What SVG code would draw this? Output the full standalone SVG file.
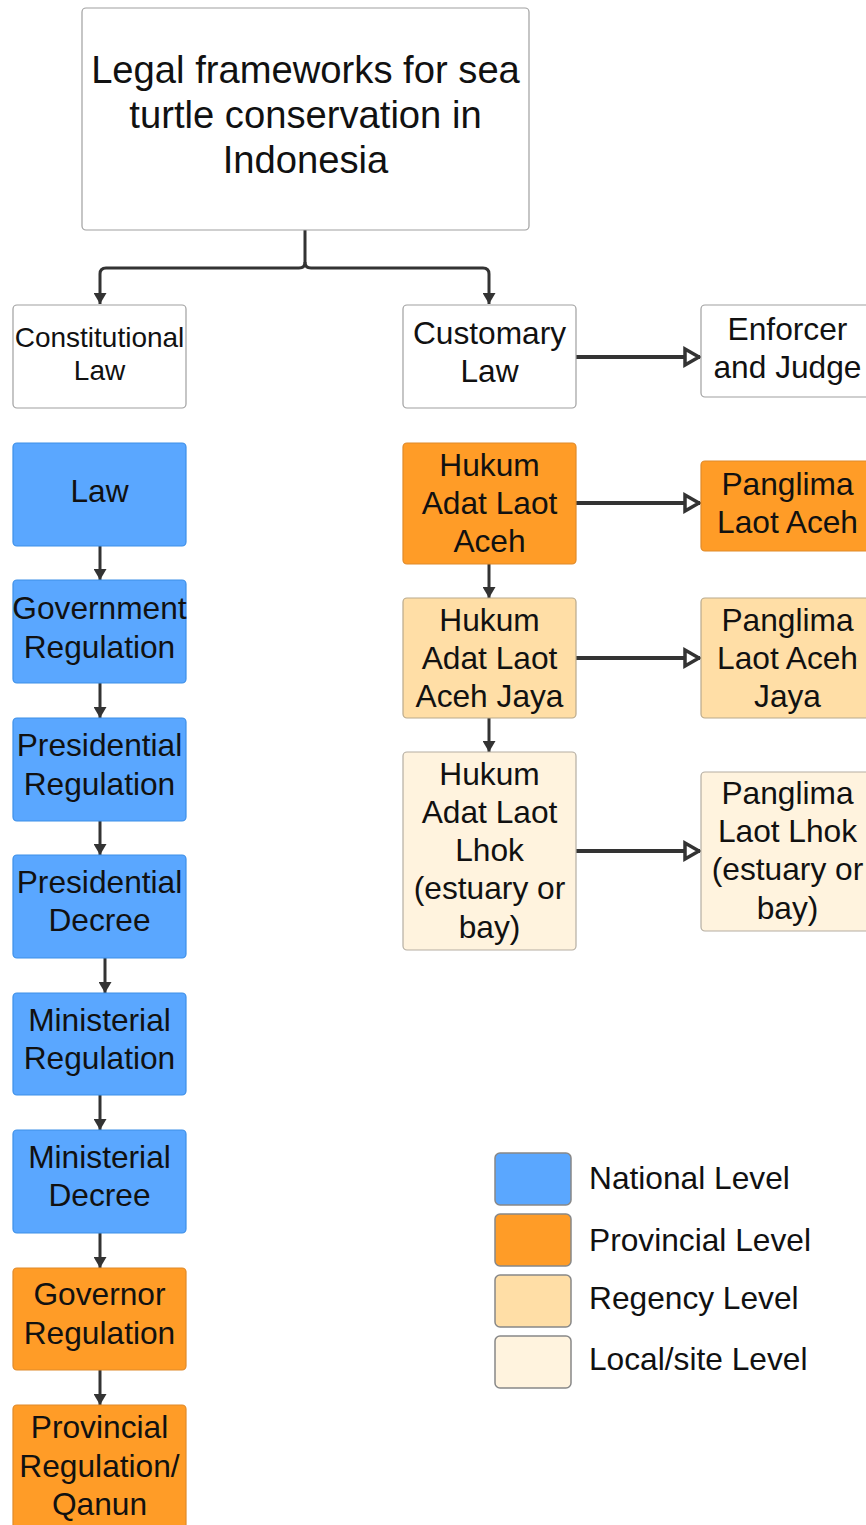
<svg xmlns="http://www.w3.org/2000/svg" width="866" height="1525" viewBox="0 0 866 1525">
<defs>
<style>
text{font-family:"Liberation Sans",Arial,sans-serif;fill:#111;text-anchor:middle}
.t31{font-size:31.7px}
.t28{font-size:28px}
.t38{font-size:38.2px}
.lg{font-size:31.7px;text-anchor:start}
.w{fill:#fff;stroke:#a0a0a0;stroke-width:1.2}
.nat{fill:#5AA7FF;stroke:#3d8fe8;stroke-width:1.2}
.prov{fill:#FF9C27;stroke:#e08a2a;stroke-width:1.2}
.reg{fill:#FFDEA6;stroke:#b9a98c;stroke-width:1.2}
.loc{fill:#FFF3DE;stroke:#b5aea2;stroke-width:1.2}
.sw{stroke:#888;stroke-width:1.5}
.c{fill:none;stroke:#333;stroke-width:3}
.h{fill:none;stroke:#333;stroke-width:4}
</style>
<marker id="fa" viewBox="0 0 11 13" refX="11" refY="6.5" markerWidth="11" markerHeight="13" markerUnits="userSpaceOnUse" orient="auto">
<path d="M0,0 L11,6.5 L0,13 z" fill="#333"/>
</marker>
<marker id="ha" viewBox="0 0 20 22" refX="18" refY="11" markerWidth="20" markerHeight="22" markerUnits="userSpaceOnUse" orient="auto">
<path d="M3,3 L17,11 L3,19 z" fill="#fff" stroke="#333" stroke-width="3.5" stroke-linejoin="miter"/>
</marker>
</defs>

<g id="connectors">
<path class="c" d="M305 230 V262 Q305 268 299 268 H106 Q100 268 100 274 V304" marker-end="url(#fa)"/>
<path class="c" d="M305 262 Q305 268 311 268 H483 Q489 268 489 274 V304" marker-end="url(#fa)"/>
<path class="h" d="M576 357 H700" marker-end="url(#ha)"/>
<path class="h" d="M576 503 H700" marker-end="url(#ha)"/>
<path class="h" d="M576 658 H700" marker-end="url(#ha)"/>
<path class="h" d="M576 851 H700" marker-end="url(#ha)"/>
<path class="c" d="M489 564 V598" marker-end="url(#fa)"/>
<path class="c" d="M489 718 V752" marker-end="url(#fa)"/>
<path class="c" d="M100 546 V580" marker-end="url(#fa)"/>
<path class="c" d="M100 683 V718" marker-end="url(#fa)"/>
<path class="c" d="M100 821 V855" marker-end="url(#fa)"/>
<path class="c" d="M105 958 V993" marker-end="url(#fa)"/>
<path class="c" d="M100 1095 V1130" marker-end="url(#fa)"/>
<path class="c" d="M100 1233 V1268" marker-end="url(#fa)"/>
<path class="c" d="M100 1370 V1405" marker-end="url(#fa)"/>
</g>

<g id="title">
<rect class="w" x="82" y="8" width="447" height="222" rx="4"/>
<text class="t38" x="305.5" y="83">Legal frameworks for sea</text>
<text class="t38" x="305.5" y="128">turtle conservation in</text>
<text class="t38" x="305.5" y="173">Indonesia</text>
</g>

<g id="constitutional">
<rect class="w" x="13" y="305" width="173" height="103" rx="4"/>
<text class="t28" x="99.5" y="347">Constitutional</text>
<text class="t28" x="99.5" y="380">Law</text>
</g>

<g id="customary">
<rect class="w" x="403" y="305" width="173" height="103" rx="4"/>
<text class="t31" x="489.5" y="344">Customary</text>
<text class="t31" x="489.5" y="382">Law</text>
</g>

<g id="enforcer">
<rect class="w" x="701" y="305" width="173" height="92" rx="4"/>
<text class="t31" x="787.5" y="340">Enforcer</text>
<text class="t31" x="787.5" y="378">and Judge</text>
</g>

<g id="law">
<rect class="nat" x="13" y="443" width="173" height="103" rx="4"/>
<text class="t31" x="99.5" y="502">Law</text>
</g>

<g id="gov-reg">
<rect class="nat" x="13" y="580" width="173" height="103" rx="4"/>
<text class="t31" x="99.5" y="619">Government</text>
<text class="t31" x="99.5" y="658">Regulation</text>
</g>

<g id="pres-reg">
<rect class="nat" x="13" y="718" width="173" height="103" rx="4"/>
<text class="t31" x="99.5" y="756">Presidential</text>
<text class="t31" x="99.5" y="795">Regulation</text>
</g>

<g id="pres-decree">
<rect class="nat" x="13" y="855" width="173" height="103" rx="4"/>
<text class="t31" x="99.5" y="893">Presidential</text>
<text class="t31" x="99.5" y="931">Decree</text>
</g>

<g id="min-reg">
<rect class="nat" x="13" y="993" width="173" height="102" rx="4"/>
<text class="t31" x="99.5" y="1031">Ministerial</text>
<text class="t31" x="99.5" y="1069">Regulation</text>
</g>

<g id="min-decree">
<rect class="nat" x="13" y="1130" width="173" height="103" rx="4"/>
<text class="t31" x="99.5" y="1168">Ministerial</text>
<text class="t31" x="99.5" y="1206">Decree</text>
</g>

<g id="governor-reg">
<rect class="prov" x="13" y="1268" width="173" height="102" rx="4"/>
<text class="t31" x="99.5" y="1305">Governor</text>
<text class="t31" x="99.5" y="1344">Regulation</text>
</g>

<g id="prov-reg">
<rect class="prov" x="13" y="1405" width="173" height="130" rx="4"/>
<text class="t31" x="99.5" y="1438">Provincial</text>
<text class="t31" x="99.5" y="1477">Regulation/</text>
<text class="t31" x="99.5" y="1515">Qanun</text>
</g>

<g id="hukum-aceh">
<rect class="prov" x="403" y="443" width="173" height="121" rx="4"/>
<text class="t31" x="489.5" y="476">Hukum</text>
<text class="t31" x="489.5" y="514">Adat Laot</text>
<text class="t31" x="489.5" y="552">Aceh</text>
</g>

<g id="hukum-aceh-jaya">
<rect class="reg" x="403" y="598" width="173" height="120" rx="4"/>
<text class="t31" x="489.5" y="631">Hukum</text>
<text class="t31" x="489.5" y="669">Adat Laot</text>
<text class="t31" x="489.5" y="707">Aceh Jaya</text>
</g>

<g id="hukum-lhok">
<rect class="loc" x="403" y="752" width="173" height="198" rx="4"/>
<text class="t31" x="489.5" y="785">Hukum</text>
<text class="t31" x="489.5" y="823">Adat Laot</text>
<text class="t31" x="489.5" y="861">Lhok</text>
<text class="t31" x="489.5" y="899">(estuary or</text>
<text class="t31" x="489.5" y="938">bay)</text>
</g>

<g id="panglima-aceh">
<rect class="prov" x="701" y="461" width="173" height="90" rx="4"/>
<text class="t31" x="787.5" y="495">Panglima</text>
<text class="t31" x="787.5" y="533">Laot Aceh</text>
</g>

<g id="panglima-aceh-jaya">
<rect class="reg" x="701" y="598" width="173" height="120" rx="4"/>
<text class="t31" x="787.5" y="631">Panglima</text>
<text class="t31" x="787.5" y="669">Laot Aceh</text>
<text class="t31" x="787.5" y="707">Jaya</text>
</g>

<g id="panglima-lhok">
<rect class="loc" x="701" y="772" width="173" height="159" rx="4"/>
<text class="t31" x="787.5" y="804">Panglima</text>
<text class="t31" x="787.5" y="842">Laot Lhok</text>
<text class="t31" x="787.5" y="880">(estuary or</text>
<text class="t31" x="787.5" y="919">bay)</text>
</g>

<g id="legend">
<rect class="sw" x="495" y="1153" width="76" height="52" rx="5" fill="#5AA7FF"/>
<rect class="sw" x="495" y="1214" width="76" height="52" rx="5" fill="#FF9C27"/>
<rect class="sw" x="495" y="1275" width="76" height="52" rx="5" fill="#FFDEA6"/>
<rect class="sw" x="495" y="1336" width="76" height="52" rx="5" fill="#FFF3DE"/>
<text class="lg" x="589" y="1189">National Level</text>
<text class="lg" x="589" y="1251">Provincial Level</text>
<text class="lg" x="589" y="1309">Regency Level</text>
<text class="lg" x="589" y="1370">Local/site Level</text>
</g>
</svg>
